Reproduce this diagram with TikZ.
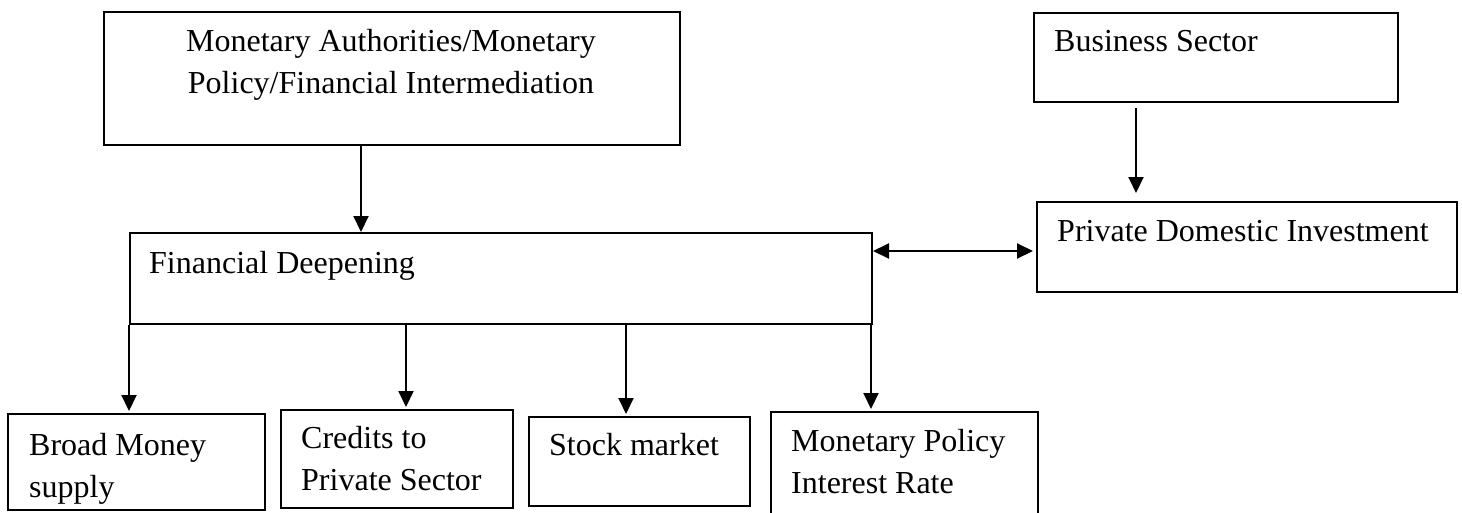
\documentclass[tikz,border=0pt]{standalone}
\usepackage{fontspec}
\setmainfont{Liberation Serif}
\usetikzlibrary{arrows.meta, positioning, calc}

\begin{document}
\begin{tikzpicture}[x=1pt, y=-1pt,
    box/.style={draw, line width=2pt, inner sep=0pt, anchor=north west},
    lbl/.style={inner sep=0pt, anchor=base west, align=left, font=\fontsize{32}{42}\selectfont},
    arr/.style={line width=2pt, -{Triangle[length=16pt,width=15pt]}},
    dblarr/.style={line width=2pt, {Triangle[length=16pt,width=15pt]}-{Triangle[length=16pt,width=15pt]}}]
\useasboundingbox (0,0) rectangle (1462,512);
% Top row
\node[box, minimum width=576pt, minimum height=133pt] (auth) at (103,11) {};
\node[lbl, anchor=base, align=center] (authtxt) at (391,93) {Monetary Authorities/Monetary\\Policy/Financial Intermediation};
\node[box, minimum width=364pt, minimum height=89pt] (biz) at (1033,12) {};
\node[lbl] (biztxt) at (1054,51) {Business Sector};
% Middle row
\node[box, minimum width=742pt, minimum height=91pt] (fd) at (129,232) {};
\node[lbl] (fdtxt) at (149,273) {Financial Deepening};
\node[box, minimum width=420pt, minimum height=90pt] (pdi) at (1036,201) {};
\node[lbl] (pditxt) at (1057,241) {Private Domestic Investment};
% Bottom row (base is the last line)
\node[box, minimum width=257pt, minimum height=96pt] (bms) at (7,413) {};
\node[lbl] (bmstxt) at (29,497) {Broad Money\\supply};
\node[box, minimum width=232pt, minimum height=98pt] (cps) at (280,409) {};
\node[lbl] (cpstxt) at (301,490) {Credits to\\Private Sector};
\node[box, minimum width=221pt, minimum height=89pt] (stk) at (528,416) {};
\node[lbl] (stktxt) at (549,455) {Stock market};
\node[box, minimum width=267pt, minimum height=110pt] (mpr) at (770,411) {};
\node[lbl] (mprtxt) at (791,493) {Monetary Policy\\Interest Rate};
% Connections
\draw[arr] ($(auth.south)+(-31,0)$) coordinate (adrop) -- (adrop |- fd.north);
\draw[arr] ($(biz.south west)+(103,5)$) coordinate (bdrop) -- ($(bdrop |- pdi.north)+(0,-8)$);
\draw[dblarr] ($(pdi.west)+(-3,4)$) coordinate (pin) -- (pin -| fd.east);
\foreach \dx/\dest in {0/bms, 277/cps, 497/stk, 742/mpr}
    \draw[arr] ($(fd.south west)+(\dx,0)$) coordinate (fdout) -- ($(fdout |- \dest.north)+(0,-2)$);
\end{tikzpicture}
\end{document}
